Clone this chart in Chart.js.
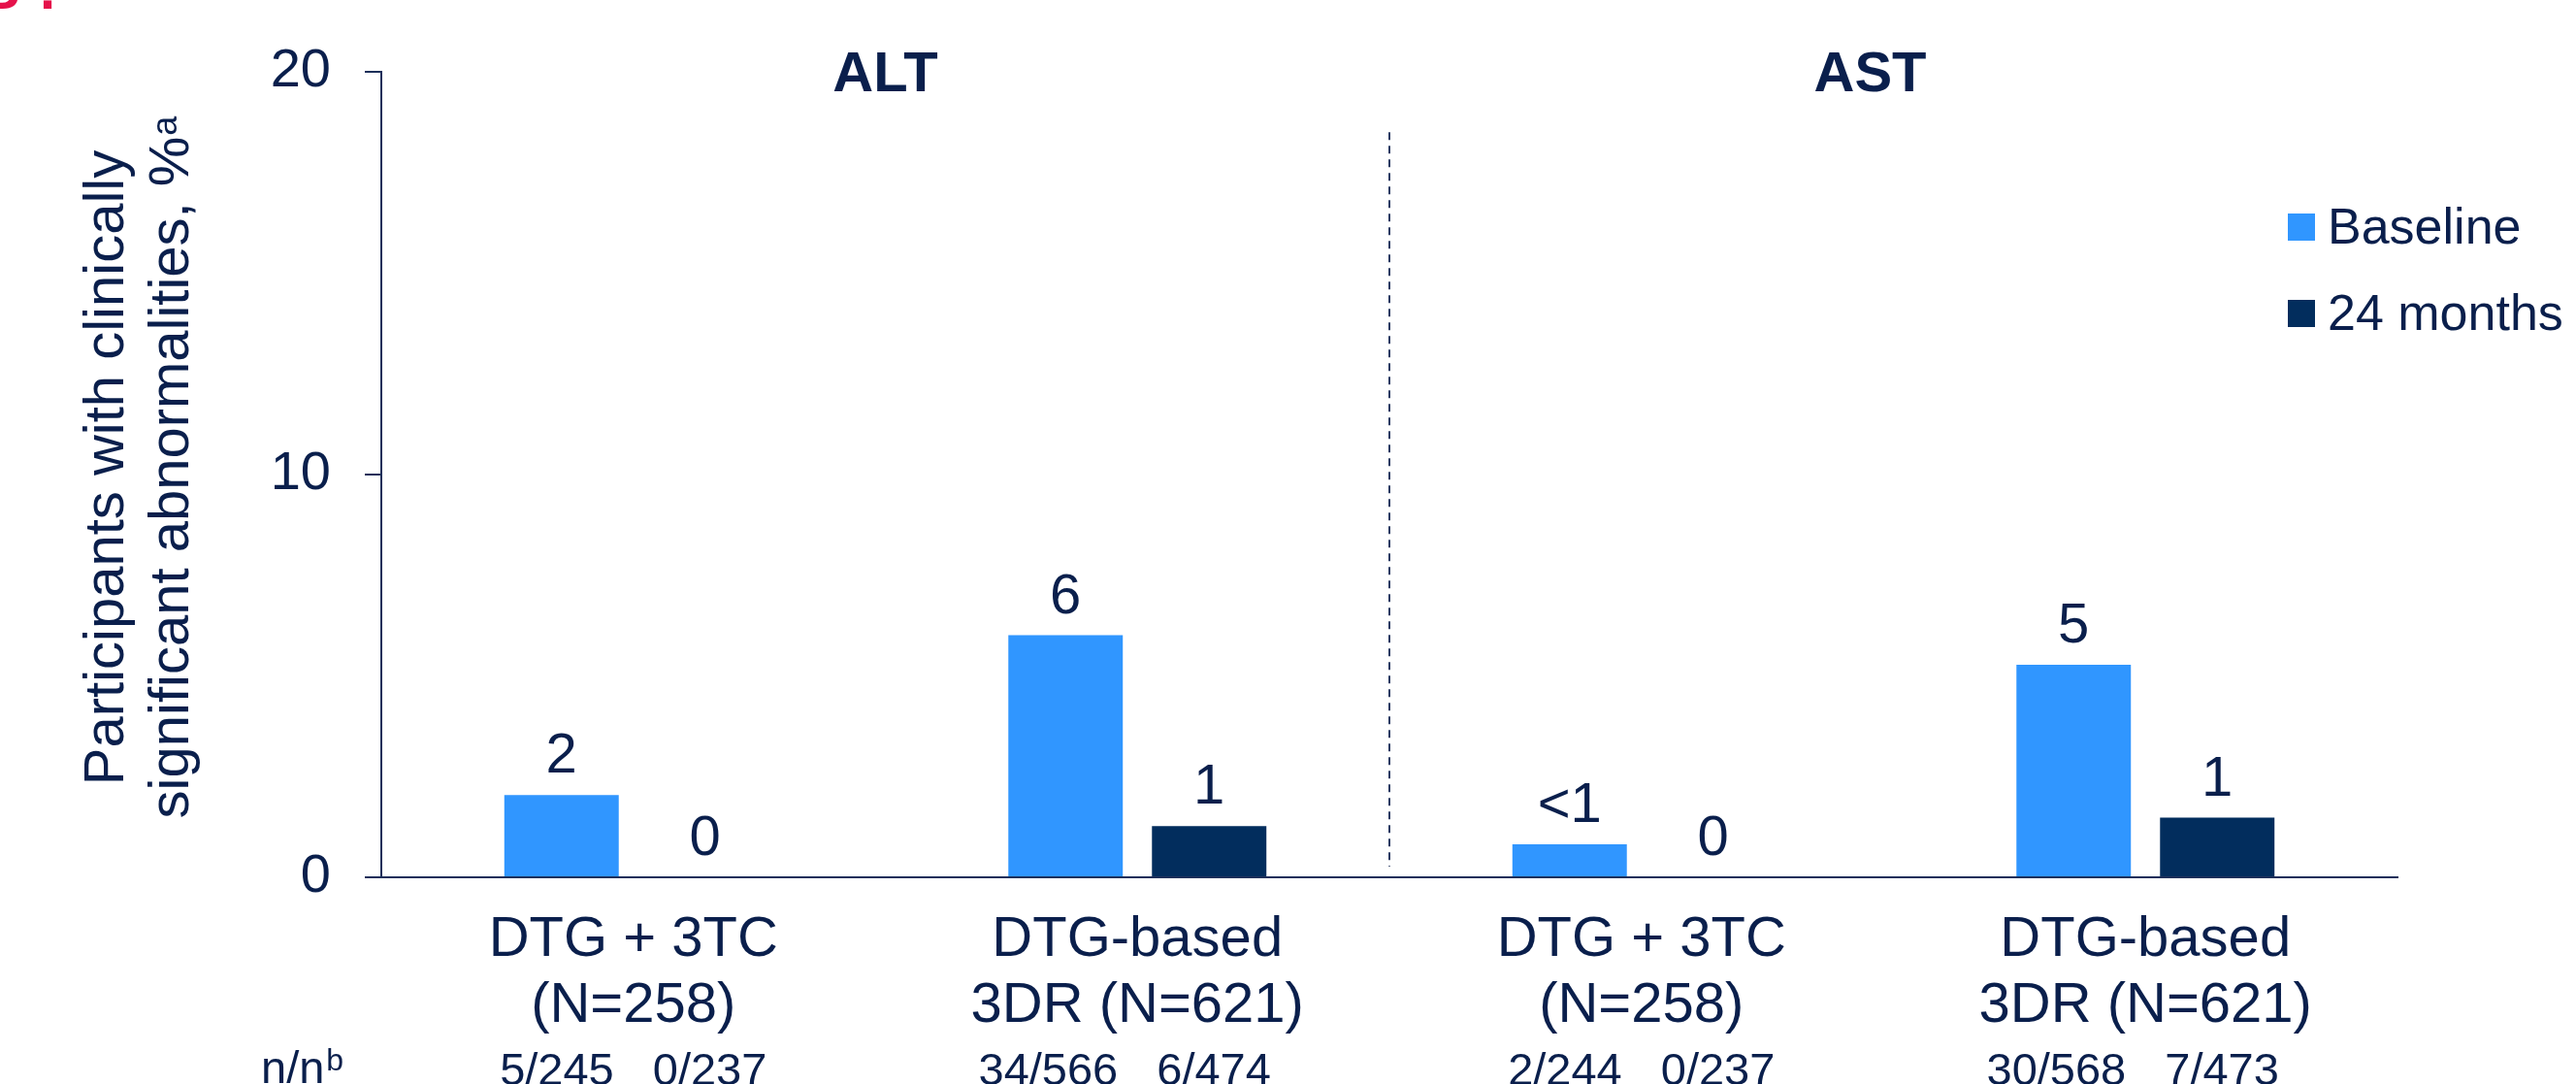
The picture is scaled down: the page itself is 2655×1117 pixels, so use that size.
<!DOCTYPE html>
<html>
<head>
<meta charset="utf-8">
<title>Clinically significant ALT / AST abnormalities</title>
<script src="https://cdn.jsdelivr.net/npm/chart.js@4.4.1/dist/chart.umd.min.js"></script>
<style>
  html, body { margin: 0; padding: 0; background: #ffffff; overflow: hidden; }
  #wrap { position: relative; width: 2655px; height: 1117px; }
</style>
</head>
<body>
<div id="wrap"><canvas id="chart" width="2655" height="1117"></canvas></div>
<script>
// ---- data ----
const categories = [
  ["DTG + 3TC", "(N=258)"],
  ["DTG-based", "3DR (N=621)"],
  ["DTG + 3TC", "(N=258)"],
  ["DTG-based", "3DR (N=621)"]
];
const panelTitles = ["ALT", "AST"];
const seriesNames = ["Baseline", "24 months"];
const baselinePct = [2.04, 6.01, 0.82, 5.28];
const month24Pct = [0, 1.27, 0, 1.48];
const baselineCounts = ["5/245", "34/566", "2/244", "30/568"];
const month24Counts = ["0/237", "6/474", "0/237", "7/473"];
const yTicks = [0, 10, 20];
const yTitleLines = ["Participants with clinically", "significant abnormalities, %"];
const yTitleNote = "a";
const countsRowLabel = "n/n";
const countsRowNote = "b";
const panelLetter = ["B", "."];

// ---- styling ----
const NAVY = "#0a1f4c";
const AXIS = "#1c2f5a";
const LIGHT_BLUE = "#3096ff";
const DARK_BLUE = "#022d5d";
const RED = "#e5124b";
const FAMILY = '"Liberation Sans", Arial, Helvetica, sans-serif';
const font = (size, bold) => (bold ? "bold " : "") + size + "px " + FAMILY;

// value shown above each bar, rounded the way the slide prints it
function valueText(v) {
  if (v === 0) return "0";
  if (v < 1) return "<1";
  return String(Math.round(v));
}

// annotations drawn on top of the chart: panel titles, divider, value labels,
// n/n row, legend and the two-line y-axis title with its footnote marker
const annotations = {
  id: "annotations",
  afterDraw(chart) {
    const { ctx, chartArea, scales } = chart;
    const x = scales.x, y = scales.y;
    ctx.save();

    // dashed divider between the ALT and AST panels
    const divX = (x.getPixelForValue(1) + x.getPixelForValue(2)) / 2;
    ctx.strokeStyle = "#2a3b63";
    ctx.lineWidth = 2;
    ctx.setLineDash([8, 6]);
    ctx.beginPath();
    ctx.moveTo(divX, y.getPixelForValue(18.5));
    ctx.lineTo(divX, chartArea.bottom - 11);
    ctx.stroke();
    ctx.setLineDash([]);

    // panel titles
    ctx.fillStyle = NAVY;
    ctx.textAlign = "center";
    ctx.textBaseline = "alphabetic";
    ctx.font = font(58, true);
    const altCenter = (x.getPixelForValue(0) + x.getPixelForValue(1)) / 2;
    const astCenter = (x.getPixelForValue(2) + x.getPixelForValue(3)) / 2 - 24;
    ctx.fillText(panelTitles[0], altCenter, chartArea.top + 20);
    ctx.fillText(panelTitles[1], astCenter, chartArea.top + 20);

    // values above the bars
    chart.data.datasets.forEach((ds, di) => {
      const meta = chart.getDatasetMeta(di);
      meta.data.forEach((bar, i) => {
        ctx.font = font(58, false);
        ctx.fillText(valueText(ds.data[i]), bar.x, bar.y - 23);
      });
    });

    // n/n counts: a pair under each group, split around the group centre
    const countsY = chartArea.bottom + 214;
    ctx.font = font(47, false);
    categories.forEach((c, i) => {
      const cx = x.getPixelForValue(i);
      ctx.textAlign = "right";
      ctx.fillText(baselineCounts[i], cx - 20, countsY);
      ctx.textAlign = "left";
      ctx.fillText(month24Counts[i], cx + 20, countsY);
    });

    // n/n row heading
    ctx.textAlign = "left";
    ctx.font = font(47, false);
    const rowX = 269, rowY = chartArea.bottom + 212;
    ctx.fillText(countsRowLabel, rowX, rowY);
    const rowW = ctx.measureText(countsRowLabel).width;
    ctx.font = font(32, false);
    ctx.fillText(countsRowNote, rowX + rowW + 2, rowY - 13);

    // legend
    const legendX = 2358;
    const legendRows = [chartArea.top + 146, chartArea.top + 235];
    chart.data.datasets.forEach((ds, di) => {
      ctx.fillStyle = ds.backgroundColor;
      ctx.fillRect(legendX, legendRows[di], 28, 28);
      ctx.fillStyle = NAVY;
      ctx.font = font(52, false);
      ctx.fillText(ds.label, legendX + 41, legendRows[di] + 31);
    });

    // y-axis title, two rotated lines
    const titleCenterY = (chartArea.top + chartArea.bottom) / 2 - 7;
    ctx.save();
    ctx.translate(127, titleCenterY);
    ctx.rotate(-Math.PI / 2);
    ctx.textAlign = "center";
    ctx.font = font(58, false);
    ctx.fillText(yTitleLines[0], 0, 0);
    ctx.restore();

    ctx.save();
    ctx.translate(194, titleCenterY);
    ctx.rotate(-Math.PI / 2);
    ctx.textAlign = "left";
    ctx.font = font(58, false);
    const mainW = ctx.measureText(yTitleLines[1]).width;
    ctx.font = font(36, false);
    const noteW = ctx.measureText(yTitleNote).width;
    const start = -(mainW + noteW) / 2;
    ctx.font = font(58, false);
    ctx.fillText(yTitleLines[1], start, 0);
    ctx.font = font(36, false);
    ctx.fillText(yTitleNote, start + mainW + 1, -12);
    ctx.restore();

    // panel letter, mostly above the top edge
    ctx.fillStyle = RED;
    ctx.font = font(58, true);
    ctx.textAlign = "right";
    ctx.fillText(panelLetter[0], 21, 9);
    ctx.textAlign = "left";
    ctx.fillText(panelLetter[1], 41, 9);

    ctx.restore();
  }
};

Chart.defaults.font.family = FAMILY;
Chart.defaults.color = NAVY;

new Chart(document.getElementById("chart"), {
  type: "bar",
  data: {
    labels: categories,
    datasets: [
      { label: seriesNames[0], data: baselinePct, backgroundColor: LIGHT_BLUE, borderWidth: 0 },
      { label: seriesNames[1], data: month24Pct, backgroundColor: DARK_BLUE, borderWidth: 0 }
    ]
  },
  options: {
    responsive: false,
    devicePixelRatio: 1,
    animation: false,
    categoryPercentage: 0.5698,
    barPercentage: 0.797,
    layout: { padding: { left: 0, right: 184, top: 74, bottom: 0 } },
    plugins: {
      legend: { display: false },
      title: { display: false },
      tooltip: { enabled: false }
    },
    scales: {
      x: {
        type: "category",
        grid: { display: false },
        border: { display: true, color: AXIS, width: 2 },
        ticks: {
          color: NAVY,
          font: { size: 58, lineHeight: 68 / 58 },
          padding: 23,
          maxRotation: 0,
          autoSkip: false
        },
        afterFit(scale) { scale.height = 213; }
      },
      y: {
        min: 0,
        max: 20,
        afterBuildTicks(scale) { scale.ticks = yTicks.map(v => ({ value: v })); },
        grid: {
          display: true,
          drawOnChartArea: false,
          drawTicks: true,
          tickLength: 17,
          color: AXIS,
          lineWidth: 2
        },
        border: { display: true, color: AXIS, width: 2 },
        ticks: {
          color: NAVY,
          font: { size: 56 },
          padding: 35
        },
        afterFit(scale) { scale.width = 393; }
      }
    }
  },
  plugins: [annotations]
});
</script>
</body>
</html>
